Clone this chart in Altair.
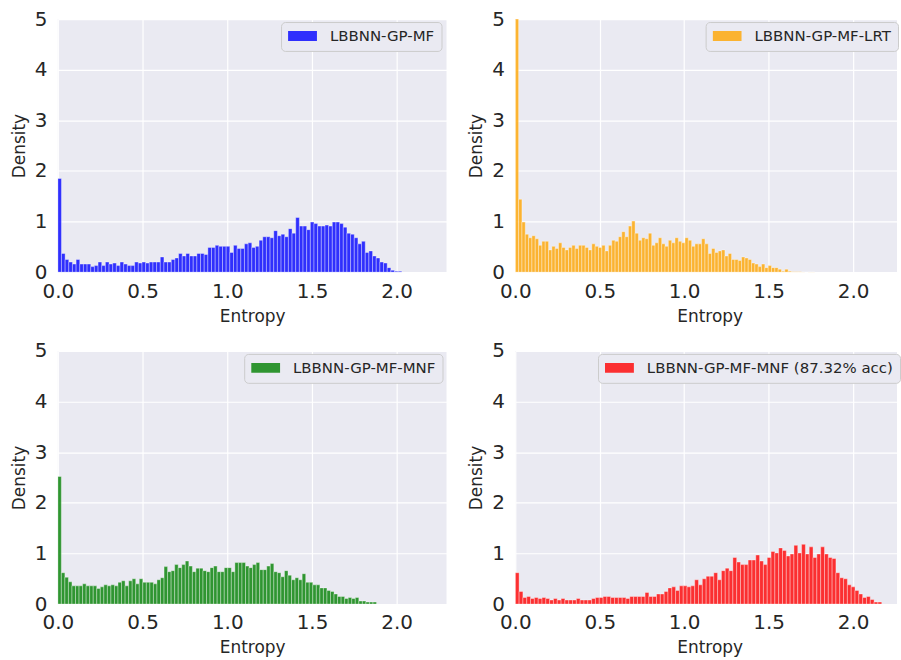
import altair as alt
import pandas as pd

FONT = "DejaVu Sans"
TEXT = "#262626"
BG = "#EAEAF2"

labels = ["LBBNN-GP-MF", "LBBNN-GP-MF-LRT", "LBBNN-GP-MF-MNF", "LBBNN-GP-MF-MNF (87.32% acc)"]
colors = ["blue", "orange", "green", "red"]
bin_widths = [0.0216, 0.0197, 0.0209, 0.0226]
x_ticks = [0.0, 0.5, 1.0, 1.5, 2.0]
y_ticks = [0, 1, 2, 3, 4, 5]

mf = [1.85, 0.37, 0.25, 0.2, 0.16, 0.25, 0.16, 0.16, 0.16, 0.11, 0.13, 0.2, 0.13, 0.2, 0.16, 0.18,
      0.13, 0.2, 0.16, 0.13, 0.13, 0.2, 0.18, 0.2, 0.18, 0.2, 0.2, 0.2, 0.3, 0.2, 0.2, 0.25, 0.28,
      0.37, 0.32, 0.37, 0.32, 0.32, 0.37, 0.37, 0.35, 0.49, 0.49, 0.53, 0.51, 0.51, 0.51, 0.39, 0.53,
      0.47, 0.47, 0.56, 0.58, 0.49, 0.51, 0.63, 0.7, 0.7, 0.68, 0.82, 0.72, 0.75, 0.7, 0.86, 0.77,
      1.08, 0.91, 0.91, 0.84, 0.99, 0.96, 0.91, 0.91, 0.93, 0.91, 0.99, 0.99, 0.96, 0.89, 0.77, 0.75,
      0.68, 0.56, 0.61, 0.39, 0.42, 0.32, 0.28, 0.2, 0.18, 0.09, 0.04, 0.02, 0.02]

lrt = [5.0, 1.44, 0.99, 0.75, 0.68, 0.72, 0.66, 0.53, 0.61, 0.61, 0.44, 0.51, 0.47, 0.58, 0.49, 0.44,
       0.49, 0.53, 0.47, 0.53, 0.53, 0.49, 0.44, 0.56, 0.51, 0.49, 0.53, 0.42, 0.53, 0.63, 0.61, 0.7,
       0.8, 0.7, 0.91, 1.01, 0.77, 0.63, 0.68, 0.66, 0.77, 0.53, 0.58, 0.68, 0.56, 0.51, 0.63, 0.58,
       0.68, 0.61, 0.58, 0.68, 0.63, 0.51, 0.56, 0.56, 0.66, 0.56, 0.37, 0.47, 0.39, 0.42, 0.44, 0.32,
       0.37, 0.25, 0.25, 0.23, 0.3, 0.28, 0.25, 0.18, 0.16, 0.11, 0.16, 0.09, 0.13, 0.09, 0.09, 0.06,
       0.02, 0.06, 0.02, 0.01, 0.01, 0.01, 0.005, 0.0, 0.005, 0.005]

mnf = [2.52, 0.62, 0.53, 0.44, 0.36, 0.36, 0.36, 0.4, 0.36, 0.36, 0.36, 0.31, 0.34, 0.38, 0.36, 0.38,
       0.36, 0.43, 0.46, 0.36, 0.46, 0.5, 0.4, 0.5, 0.43, 0.43, 0.43, 0.4, 0.48, 0.52, 0.74, 0.64,
       0.66, 0.78, 0.72, 0.78, 0.85, 0.75, 0.64, 0.71, 0.71, 0.66, 0.64, 0.72, 0.75, 0.64, 0.64, 0.72,
       0.72, 0.64, 0.82, 0.82, 0.82, 0.75, 0.72, 0.78, 0.82, 0.68, 0.68, 0.75, 0.8, 0.64, 0.62, 0.54,
       0.66, 0.57, 0.48, 0.52, 0.48, 0.6, 0.43, 0.43, 0.38, 0.38, 0.32, 0.32, 0.27, 0.25, 0.2, 0.15,
       0.15, 0.11, 0.13, 0.11, 0.13, 0.06, 0.06, 0.04, 0.04, 0.04]

mnf_acc = [0.62, 0.25, 0.13, 0.15, 0.11, 0.13, 0.11, 0.13, 0.11, 0.08, 0.11, 0.08, 0.11, 0.08, 0.08,
           0.08, 0.11, 0.08, 0.08, 0.08, 0.11, 0.13, 0.13, 0.15, 0.15, 0.13, 0.13, 0.13, 0.13, 0.11,
           0.15, 0.15, 0.15, 0.15, 0.23, 0.15, 0.15, 0.2, 0.2, 0.25, 0.32, 0.34, 0.27, 0.36, 0.36,
           0.34, 0.36, 0.48, 0.38, 0.5, 0.55, 0.55, 0.62, 0.48, 0.66, 0.71, 0.66, 0.92, 0.83, 0.78,
           0.78, 0.87, 0.87, 0.97, 0.85, 0.78, 0.92, 1.04, 1.01, 1.11, 1.06, 0.95, 0.99, 1.16, 1.01,
           1.18, 0.99, 1.13, 0.92, 0.99, 1.13, 0.99, 0.92, 0.9, 0.62, 0.52, 0.5, 0.38, 0.34, 0.27,
           0.2, 0.13, 0.15, 0.09, 0.04, 0.04]

series = [mf, lrt, mnf, mnf_acc]

SYMBOL = "M-1,-0.345L1,-0.345L1,0.345L-1,0.345Z"
# legend anchor inside each panel (left, top), in panel pixels
legend_pos = {0: (224, 3), 1: (191, 3), 2: (187, 3), 3: (83, 3)}


def make_legend(idx):
    lx, ly = legend_pos[idx]
    return alt.Legend(title=None, orient="none", legendX=lx, legendY=ly,
                      symbolType=SYMBOL, symbolSize=841, symbolStrokeWidth=0,
                      symbolOpacity=0.8, labelFontSize=15, labelFont=FONT, labelColor=TEXT,
                      labelOffset=13, padding=7, clipHeight=14, fillColor=BG,
                      strokeColor="#cccccc", cornerRadius=4, labelLimit=500)


def panel(idx, right):
    heights = series[idx]
    w = bin_widths[idx]
    df = pd.DataFrame({
        "x0": [i * w for i in range(len(heights))],
        "x1": [(i + 1) * w for i in range(len(heights))],
        "density": heights,
        "label": labels[idx],
    })
    if right:
        pw, dmax = 383, 2.26
        xaxis = alt.Axis(values=x_ticks, format=".1f", title="Entropy", titleX=195)
    else:
        pw, dmax = 390, 2.294
        xaxis = alt.Axis(values=x_ticks, format=".1f", title="Entropy")
    return alt.Chart(df).mark_bar(
        fillOpacity=0.8, stroke="white", strokeWidth=0.6, strokeOpacity=0.6, clip=True
    ).encode(
        x=alt.X("x0:Q", scale=alt.Scale(domain=[0, dmax], nice=False, zero=False), axis=xaxis),
        x2="x1:Q",
        y=alt.Y("density:Q", scale=alt.Scale(domain=[0, 5], nice=False),
                axis=alt.Axis(values=y_ticks, format="d", title="Density",
                              labelPadding=11, titlePadding=6)),
        y2=alt.datum(0),
        color=alt.Color("label:N", scale=alt.Scale(domain=[labels[idx]], range=[colors[idx]]),
                        legend=make_legend(idx)),
    ).properties(width=pw, height=254)


chart = alt.concat(
    panel(0, False), panel(1, True), panel(2, False), panel(3, True),
    columns=2, spacing={"row": 79, "column": 69}, bounds="flush",
).resolve_scale(
    x="independent", y="independent", color="independent"
).properties(
    padding={"left": 10, "top": 8, "right": 0, "bottom": 0},
    background="white",
).configure_view(
    fill=BG, strokeWidth=0
).configure_axis(
    grid=True, gridColor="white", gridWidth=1.2, domain=False, ticks=False, tickSize=0,
    labelFontSize=20, labelFont=FONT, labelColor=TEXT, labelFlush=False,
    titleFont=FONT, titleFontSize=17, titleFontWeight="normal", titleColor=TEXT,
).configure_axisX(
    labelPadding=9, titlePadding=7
)

chart.save("out.html", embed_options={"renderer": "svg", "actions": False})
